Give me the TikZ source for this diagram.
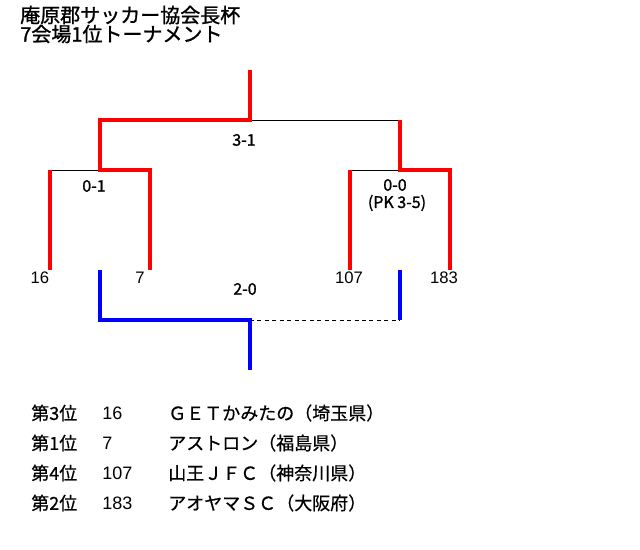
\documentclass[tikz,border=0pt]{standalone}
\usepackage{fontspec}
\newfontfamily\jp[FakeBold=0.6]{Noto Sans CJK JP}
\newfontfamily\jpb[FakeBold=1.2]{Noto Sans CJK JP}
\newfontfamily\lat{Liberation Sans}
\begin{document}
\begin{tikzpicture}[x=0.75pt,y=-0.75pt,
  win/.style={draw=red,line width=2.6pt,line join=miter},
  bronze/.style={draw=blue,line width=2.6pt,line join=miter},
  lose/.style={draw=black,line width=0.75pt},
  dashlose/.style={draw=black,line width=0.75pt,dash pattern=on 3pt off 2.6pt},
  teamlbl/.style={inner sep=0pt,font=\lat\fontsize{12.5}{14}\selectfont},
  scorelbl/.style={inner sep=0pt,font=\jpb\fontsize{12}{14}\selectfont},
  titlelbl/.style={inner sep=0pt,anchor=west,font=\jpb\fontsize{15}{17}\selectfont},
  listlbl/.style={inner sep=0pt,anchor=west,font=\jp\fontsize{13.5}{15}\selectfont},
  listnum/.style={inner sep=0pt,anchor=west,font=\lat\fontsize{13.5}{15}\selectfont}]
\useasboundingbox[fill=white] (0,0) rectangle (640,550);
% title
\node[titlelbl] (t1) at (20,15) {庵原郡サッカー協会長杯};
\node[titlelbl] (t2) at (20,34) {7会場1位トーナメント};
% coordinates
\coordinate (top) at (250,70);
\coordinate (fin) at (250,120);
\coordinate (finL) at (100,120);
\coordinate (finR) at (400,120);
\coordinate (sL) at (100,170);
\coordinate (sLL) at (50,170);
\coordinate (sLR) at (150,170);
\coordinate (sR) at (400,170);
\coordinate (sRL) at (350,170);
\coordinate (sRR) at (450,170);
\coordinate (e16) at (50,270);
\coordinate (e7) at (150,270);
\coordinate (e107) at (350,270);
\coordinate (e183) at (450,270);
\coordinate (bL) at (100,270);
\coordinate (bLc) at (100,320);
\coordinate (bC) at (250,320);
\coordinate (bRc) at (400,320);
\coordinate (bR) at (400,270);
\coordinate (bot) at (250,370);
% losing lines
\draw[lose] (fin) -- (finR);
\draw[lose] (sLL) -- (sL);
\draw[lose] (sRL) -- (sR);
\draw[dashlose] (bC) -- (bRc);
% winning lines
\draw[win] (e7) -- (sLR) -- (sL) -- (finL) -- (fin) -- (top);
\draw[win] (e183) -- (sRR) -- (sR) -- (finR);
\draw[win] (sLL) -- (e16);
\draw[win] (sRL) -- (e107);
% third place
\draw[bronze] (bL) -- (bLc) -- (bC) -- (bot);
\draw[bronze] (bR) -- (bRc);
% team labels
\node[teamlbl] (n16) at (40,278) {16};
\node[teamlbl] (n7) at (140,278) {7};
\node[teamlbl] (n107) at (349,278) {107};
\node[teamlbl] (n183) at (444,278) {183};
% scores
\node[scorelbl] (s31) at (244,140) {3-1};
\node[scorelbl] (s01) at (94,186) {0-1};
\node[scorelbl] (s00) at (395,185) {0-0};
\node[scorelbl] (spk) at (397,203) {(PK 3-5)};
\node[scorelbl] (s20) at (245,289) {2-0};
% result list
\node[listlbl] (r1a) at (31,413) {第3位};
\node[listnum] (r1b) at (102,413) {16};
\node[listlbl] (r1c) at (168,413) {ＧＥＴかみたの（埼玉県）};
\node[listlbl] (r2a) at (31,443) {第1位};
\node[listnum] (r2b) at (102,443) {7};
\node[listlbl] (r2c) at (168,443) {アストロン（福島県）};
\node[listlbl] (r3a) at (31,473) {第4位};
\node[listnum] (r3b) at (102,473) {107};
\node[listlbl] (r3c) at (168,473) {山王ＪＦＣ（神奈川県）};
\node[listlbl] (r4a) at (31,503) {第2位};
\node[listnum] (r4b) at (102,503) {183};
\node[listlbl] (r4c) at (168,503) {アオヤマＳＣ（大阪府）};
\end{tikzpicture}
\end{document}
